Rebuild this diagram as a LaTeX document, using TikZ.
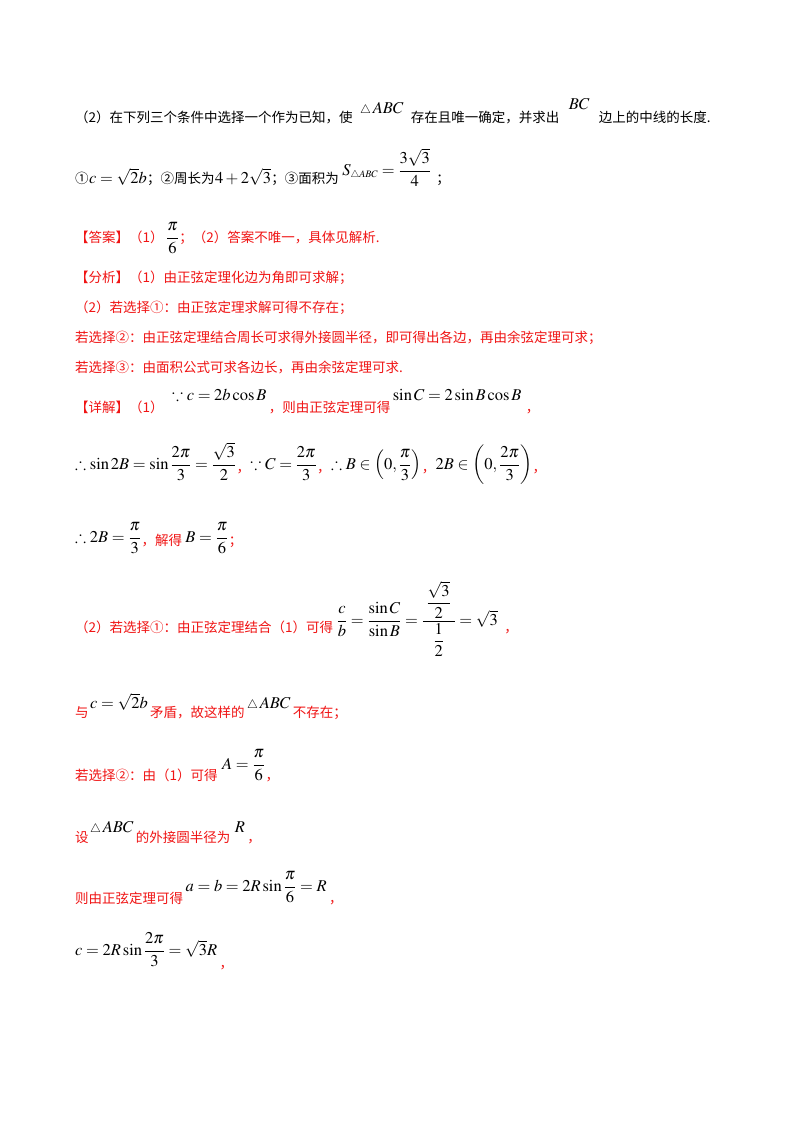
\documentclass[tikz,border=0pt]{standalone}
\usepackage{amsmath}
\usepackage{mathptmx}
\usepackage{amssymb}
\usepackage{fontspec}
\setmainfont{Liberation Serif}
\newfontfamily\cjk{Noto Sans CJK SC}
\definecolor{rd}{RGB}{240,20,20}
\begin{document}
\begin{tikzpicture}[x=1pt,y=-1pt,
  t/.style={anchor=base west,inner sep=0pt,font=\cjk\fontsize{13.5}{14}\selectfont},
  r/.style={t,text=rd},
  m/.style={anchor=base west,inner sep=0pt,font=\fontsize{16.5}{18}\selectfont}]
\useasboundingbox[fill=white] (0,0) rectangle (800,1132);
\newcommand\tri{{\scriptstyle\triangle}\,}
% line 1
\node[t] (a1) at (75,122) {（2）在下列三个条件中选择一个作为已知，使};
\node[m] (a2) at (a1.base east) [xshift=7pt,yshift=9pt] {$\tri ABC$};
\node[t] (a3) at (a2.base east) [xshift=7pt,yshift=-9pt] {存在且唯一确定，并求出};
\node[m] (a4) at (a3.base east) [xshift=9pt,yshift=13pt] {$BC$};
\node[t] (a5) at (a4.base east) [xshift=9pt,yshift=-13pt] {边上的中线的长度.};
% line 2
\node[t] (b1) at (75,183) {①};
\node[m] (b2) at (b1.base east) {$c=\sqrt{2}b$};
\node[t] (b3) at (b2.base east) {；②周长为};
\node[m] (b4) at (b3.base east) {$4+2\sqrt{3}$};
\node[t] (b5) at (b4.base east) {；③面积为};
\node[m] (b6) at (b5.base east) [xshift=3pt,yshift=8pt] {$S_{\scriptscriptstyle\triangle ABC}=\dfrac{3\sqrt3}{4}$};
\node[t] (b7) at (b6.base east) [xshift=5pt,yshift=-8pt] {；};
% answer
\node[r] (c1) at (75,242) {【答案】（1）};
\node[m] (c2) at (c1.base east) [xshift=2pt] {$\dfrac{\pi}{6}$};
\node[r] (c3) at (c2.base east) {；（2）答案不唯一，具体见解析.};
\node[r] (d1) at (75,282) {【分析】（1）由正弦定理化边为角即可求解；};
\node[r] (d2) at (75,312) {（2）若选择①：由正弦定理求解可得不存在；};
\node[r] (d3) at (75,342) {若选择②：由正弦定理结合周长可求得外接圆半径，即可得出各边，再由余弦定理可求；};
\node[r] (d4) at (75,372) {若选择③：由面积公式可求各边长，再由余弦定理可求.};
% detail
\node[r] (e1) at (75,412) {【详解】（1）};
\node[m] (e2) at (e1.base east) [xshift=8pt,yshift=12pt] {$\because c=2b\cos B$};
\node[r] (e3) at (e2.base east) [xshift=2pt,yshift=-12pt] {，则由正弦定理可得};
\node[m] (e4) at (e3.base east) [xshift=2pt,yshift=12pt] {$\sin C=2\sin B\cos B$};
\node[r] (e5) at (e4.base east) [xshift=4pt,yshift=-12pt] {，};
\node[m] (f1) at (75,469) {$\therefore\sin 2B=\sin\dfrac{2\pi}{3}=\dfrac{\sqrt3}{2}$};
\node[r] (f2) at (f1.base east) [yshift=-3pt] {，};
\node[m] (f3) at (f2.base east) [yshift=3pt] {$\because C=\dfrac{2\pi}{3}$};
\node[r] (f4) at (f3.base east) [yshift=-3pt] {，};
\node[m] (f5) at (f4.base east) [yshift=3pt] {$\therefore B\in\left(0,\dfrac{\pi}{3}\right)$};
\node[r] (f6) at (f5.base east) [yshift=-3pt] {，};
\node[m] (f7) at (f6.base east) [yshift=3pt] {$2B\in\left(0,\dfrac{2\pi}{3}\right)$};
\node[r] (f8) at (f7.base east) [yshift=-3pt] {，};
\node[m] (g1) at (75,542) {$\therefore 2B=\dfrac{\pi}{3}$};
\node[r] (g2) at (g1.base east) [yshift=-3pt] {，解得};
\node[m] (g3) at (g2.base east) [xshift=3pt,yshift=3pt] {$B=\dfrac{\pi}{6}$};
\node[r] (g4) at (g3.base east) [yshift=-3pt] {；};
% part 2
\node[r] (h1) at (75,632) {（2）若选择①：由正弦定理结合（1）可得};
\node[m] (h2) at (h1.base east) [xshift=3pt,yshift=7pt] {$\dfrac{c}{b}=\dfrac{\sin C}{\sin B}=\dfrac{\;\dfrac{\sqrt3}{2}\;}{\dfrac12}=\sqrt3$};
\node[r] (h3) at (h2.base east) [xshift=6pt,yshift=-7pt] {，};
\node[r] (i1) at (75,717) {与};
\node[m] (i2) at (i1.base east) [xshift=1pt,yshift=9pt] {$c=\sqrt{2}b$};
\node[r] (i3) at (i2.base east) [xshift=2pt,yshift=-9pt] {矛盾，故这样的};
\node[m] (i4) at (i3.base east) [xshift=2pt,yshift=9pt] {$\tri ABC$};
\node[r] (i5) at (i4.base east) [xshift=2pt,yshift=-9pt] {不存在；};
\node[r] (j1) at (75,780) {若选择②：由（1）可得};
\node[m] (j2) at (j1.base east) [xshift=4pt,yshift=11pt] {$A=\dfrac{\pi}{6}$};
\node[r] (j3) at (j2.base east) [yshift=-11pt] {，};
\node[r] (k1) at (75,842) {设};
\node[m] (k2) at (k1.base east) [xshift=1pt,yshift=10pt] {$\tri ABC$};
\node[r] (k3) at (k2.base east) [xshift=2pt,yshift=-10pt] {的外接圆半径为};
\node[m] (k4) at (k3.base east) [xshift=4pt,yshift=10pt] {$R$};
\node[r] (k5) at (k4.base east) [xshift=2pt,yshift=-10pt] {，};
\node[r] (l1) at (75,903) {则由正弦定理可得};
\node[m] (l2) at (l1.base east) [xshift=2pt,yshift=12pt] {$a=b=2R\sin\dfrac{\pi}{6}=R$};
\node[r] (l3) at (l2.base east) [xshift=2pt,yshift=-12pt] {，};
\node[m] (n1) at (75,955) {$c=2R\sin\dfrac{2\pi}{3}=\sqrt3R$};
\node[r] (n2) at (n1.base east) [xshift=2pt,yshift=-13pt] {，};
\end{tikzpicture}
\end{document}
